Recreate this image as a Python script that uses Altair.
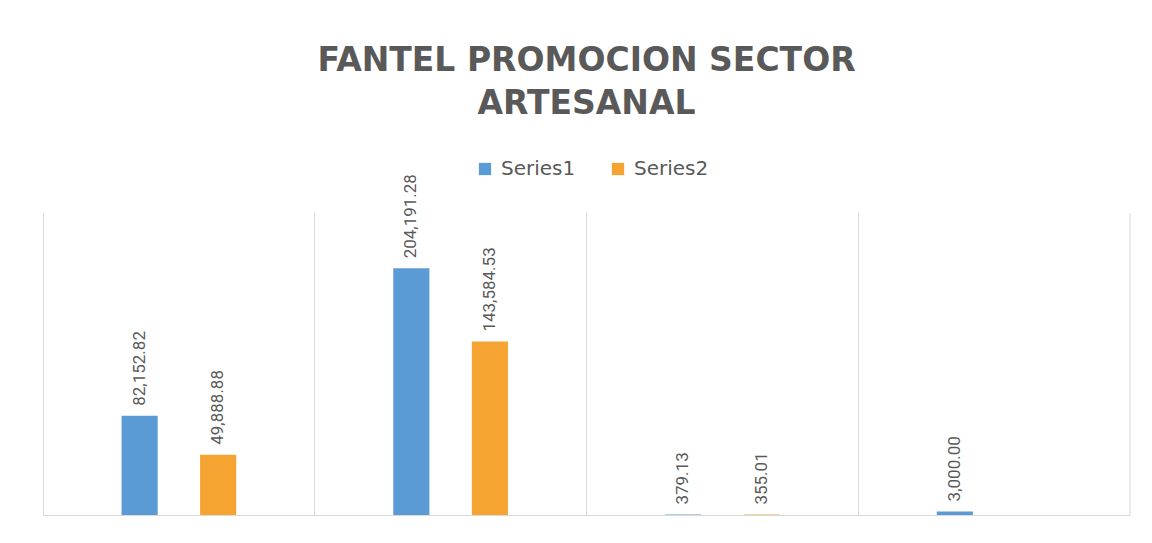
import altair as alt
import pandas as pd

categories = ["1", "2", "3", "4"]
series_names = ["Series1", "Series2"]
series1 = [82152.82, 204191.28, 379.13, 3000.00]
series2 = [49888.88, 143584.53, 355.01, None]
colors = ["#5B9BD5", "#F5A431"]

rows = []
for c, a, b in zip(categories, series1, series2):
    for s, v in zip(series_names, [a, b]):
        if v is not None:
            rows.append({"cat": c, "series": s, "value": v, "label": f"{v:,.2f}"})
df = pd.DataFrame(rows)

W, H = 1087, 302
grey = "#595959"
gridc = "#D9D9D9"

x = alt.X("cat:N", sort=categories,
          scale=alt.Scale(paddingInner=0, paddingOuter=0),
          axis=alt.Axis(title=None, labels=False, ticks=False, domain=True,
                        domainColor=gridc, grid=True, gridColor=gridc,
                        bandPosition=0))
xo = alt.XOffset("series:N", sort=series_names,
                 scale=alt.Scale(domain=series_names, paddingInner=0.54, paddingOuter=1.0))
y = alt.Y("value:Q", scale=alt.Scale(domain=[0, 250000]), axis=None)

base = alt.Chart(df)

bars = base.mark_bar().encode(
    x=x, xOffset=xo, y=y,
    color=alt.Color("series:N",
                    scale=alt.Scale(domain=series_names, range=colors),
                    legend=alt.Legend(title=None, orient="none", direction="horizontal",
                                      legendX=432, legendY=-54,
                                      symbolType="square", symbolSize=150,
                                      symbolStrokeWidth=0, labelFontSize=20,
                                      labelFont="DejaVu Sans", labelColor=grey,
                                      columnPadding=32, labelOffset=6)),
)

labels = base.mark_text(angle=270, align="left", baseline="middle", dx=10,
                        font="Liberation Sans Narrow, Roboto", fontSize=17,
                        color=grey).encode(
    x=x, xOffset=xo, y=y, text="label:N")

edge = alt.Chart(alt.Data(values=[{}])).mark_rule(color=gridc).encode(
    x=alt.value(W), y=alt.value(0), y2=alt.value(H))

chart = alt.layer(bars, labels, edge).properties(
    width=W, height=H,
    autosize=alt.AutoSizeParams(type="none"),
    padding={"left": 35, "top": 205, "right": 10, "bottom": 20},
    background="white",
    title=alt.TitleParams(text=["FANTEL PROMOCION SECTOR", "ARTESANAL"],
                          font="DejaVu Sans", fontSize=33, fontWeight="bold",
                          color=grey, anchor="middle", lineHeight=43, offset=38),
).configure_view(stroke=None)

chart.save("out.html", embed_options={"renderer": "svg", "actions": False})
